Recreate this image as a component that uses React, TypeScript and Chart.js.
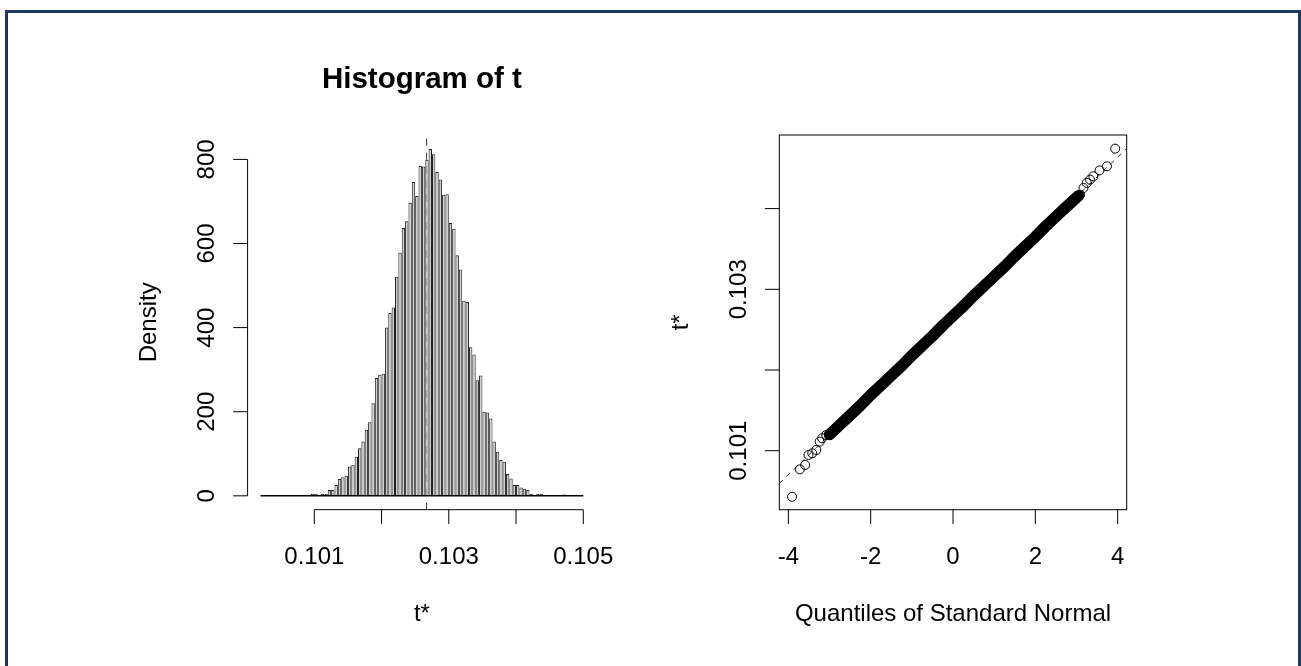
import React, { useEffect, useRef } from 'react';
import { Chart, registerables } from 'chart.js';

Chart.register(...registerables);

// ---------------- Histogram data ----------------
const histBinStart = 0.1002;
const histBinWidth = 0.00005;
const histDensities = [
  0, 0, 0, 0, 2, 0, 0, 0, 0, 0,
  0, 2, 0, 2, 0, 5, 5, 2, 5, 5,
  14, 14, 26, 40, 44, 48, 70, 74, 93, 113,
  129, 157, 175, 220, 280, 288, 290, 400, 435, 448,
  521, 578, 637, 653, 697, 746, 713, 784, 783, 799,
  825, 812, 770, 752, 716, 717, 649, 635, 572, 538,
  464, 461, 353, 336, 275, 286, 200, 198, 184, 129,
  105, 85, 81, 52, 41, 26, 26, 20, 17, 14,
  5, 2, 5, 5, 2, 2, 2, 0, 0, 0,
  3, 0, 0, 0, 0, 0,
];
const histT0 = 0.10267;
const histXTicks = [0.101, 0.102, 0.103, 0.104, 0.105];
const histXTickLabels = ['0.101', '', '0.103', '', '0.105'];
const histYTicks = [0, 200, 400, 600, 800];
const histYTickLabels = ['0', '200', '400', '600', '800'];
const histTitle = 'Histogram of t';
const histXLabel = 't*';
const histYLabel = 'Density';

// ---------------- Normal Q-Q data ----------------
const qqBandQ = [-3.0, -2.75, -2.5, -2.25, -2.0, -1.75, -1.5, -1.25, -1.0, -0.75, -0.5, -0.25, 0,
  0.25, 0.5, 0.75, 1.0, 1.25, 1.5, 1.75, 2.0, 2.25, 2.5, 2.75, 3.05];
const qqBandV = [0.10120, 0.10132, 0.10144, 0.10156, 0.10169, 0.10181, 0.10193, 0.10205, 0.10218,
  0.10230, 0.10242, 0.10255, 0.10267, 0.10279, 0.10292, 0.10304, 0.10316, 0.10328, 0.10341,
  0.10353, 0.10365, 0.10378, 0.10390, 0.10402, 0.10416];
const qqTailQ = [-3.91, -3.72, -3.59, -3.51, -3.42, -3.32, -3.24, -3.18, -3.08,
  3.09, 3.17, 3.25, 3.33, 3.41, 3.56, 3.74, 3.94];
const qqTailV = [0.100429, 0.100769, 0.100823, 0.100947, 0.100968, 0.101009, 0.101112, 0.101154, 0.101195,
  0.104172, 0.104256, 0.104318, 0.104359, 0.104400, 0.104474, 0.104524, 0.104743];
const qqLineQ = [-4.22, 4.22];
const qqLineV = [0.100594, 0.104746];
const qqXTicks = [-4, -2, 0, 2, 4];
const qqXTickLabels = ['-4', '-2', '0', '2', '4'];
const qqYTicks = [0.101, 0.102, 0.103, 0.104];
const qqYTickLabels = ['0.101', '', '0.103', ''];
const qqXLabel = 'Quantiles of Standard Normal';
const qqYLabel = 't*';

const FONT = '"Liberation Sans", Arial, Helvetica, sans-serif';

const rAxesPlugin = {
  id: 'rAxes',
  afterDraw(chart: any, _args: any, opts: any) {
    const ctx = chart.ctx as CanvasRenderingContext2D;
    const xs = chart.scales.x;
    const ys = chart.scales.y;
    const a = chart.chartArea;
    const tick = 14.4;
    ctx.save();
    ctx.strokeStyle = '#000';
    ctx.fillStyle = '#000';
    ctx.lineWidth = 1;

    if (opts.box) {
      ctx.strokeRect(a.left, a.top, a.right - a.left, a.bottom - a.top);
    }
    // x axis
    const xp = opts.xTicks.map((v: number) => xs.getPixelForValue(v));
    ctx.beginPath();
    if (!opts.box) {
      ctx.moveTo(xp[0], a.bottom);
      ctx.lineTo(xp[xp.length - 1], a.bottom);
    }
    xp.forEach((p: number) => {
      ctx.moveTo(p, a.bottom);
      ctx.lineTo(p, a.bottom + tick);
    });
    ctx.stroke();
    ctx.font = '24px ' + FONT;
    ctx.textAlign = 'center';
    ctx.textBaseline = 'alphabetic';
    xp.forEach((p: number, i: number) => {
      const t = opts.xTickLabels[i];
      if (t) ctx.fillText(t, p, a.bottom + 54.3);
    });
    // y axis
    const yp = opts.yTicks.map((v: number) => ys.getPixelForValue(v));
    ctx.beginPath();
    if (!opts.box) {
      ctx.moveTo(a.left, yp[0]);
      ctx.lineTo(a.left, yp[yp.length - 1]);
    }
    yp.forEach((p: number) => {
      ctx.moveTo(a.left, p);
      ctx.lineTo(a.left - tick, p);
    });
    ctx.stroke();
    yp.forEach((p: number, i: number) => {
      const t = opts.yTickLabels[i];
      if (!t) return;
      ctx.save();
      ctx.translate(a.left - 33.5, p);
      ctx.rotate(-Math.PI / 2);
      ctx.fillText(t, 0, 0);
      ctx.restore();
    });
    // axis titles
    const cx = (a.left + a.right) / 2;
    const cy = (a.top + a.bottom) / 2;
    ctx.fillText(opts.xLabel, cx, a.bottom + 111.3);
    ctx.save();
    ctx.translate(a.left - 91.3, cy);
    ctx.rotate(-Math.PI / 2);
    ctx.fillText(opts.yLabel, 0, 0);
    ctx.restore();
    if (opts.title) {
      ctx.font = 'bold 29.5px ' + FONT;
      ctx.fillText(opts.title, cx, 88);
    }
    ctx.restore();
  },
};

function HistChart() {
  const ref = useRef<HTMLCanvasElement | null>(null);
  useEffect(() => {
    const canvas = ref.current;
    if (!canvas) return;
    const yMin = -33;
    const yMax = 858;
    const nBins = histDensities.length;
    const chart = new Chart(canvas, {
      type: 'bar',
      data: {
        datasets: [
          {
            type: 'line',
            data: [
              { x: histT0, y: yMin },
              { x: histT0, y: yMax },
            ],
            borderColor: '#333',
            borderWidth: 1,
            borderDash: [7, 7],
            pointRadius: 0,
            order: 4,
          } as any,
          {
            type: 'bar',
            data: histDensities.map((d, k) => ({ x: histBinStart + histBinWidth * (k + 0.5), y: d })),
            backgroundColor: '#cfcfcf',
            borderColor: '#202020',
            borderWidth: 1,
            borderSkipped: 'bottom',
            barPercentage: 1.0,
            categoryPercentage: 1,
            inflateAmount: 0,
            order: 3,
          } as any,
          {
            type: 'line',
            data: [
              { x: histBinStart, y: 0 },
              { x: histBinStart + histBinWidth * nBins, y: 0 },
            ],
            borderColor: '#000',
            borderWidth: 1.5,
            pointRadius: 0,
            order: 2,
          } as any,
        ],
      },
      options: {
        animation: false,
        responsive: false,
        events: [],
        layout: { padding: { left: 247.6, right: 650 - 596.2, top: 135, bottom: 156.3 } },
        scales: {
          x: { type: 'linear', min: 0.100008, max: 0.105192, display: false, offset: false },
          y: { type: 'linear', min: yMin, max: yMax, display: false },
        },
        plugins: {
          legend: { display: false },
          tooltip: { enabled: false },
          rAxes: {
            box: false,
            xTicks: histXTicks,
            xTickLabels: histXTickLabels,
            yTicks: histYTicks,
            yTickLabels: histYTickLabels,
            xLabel: histXLabel,
            yLabel: histYLabel,
            title: histTitle,
          },
        } as any,
      },
      plugins: [rAxesPlugin],
    });
    return () => chart.destroy();
  }, []);
  return (
    <canvas
      ref={ref}
      width={650}
      height={666}
      style={{ position: 'fixed', left: 0, top: 0, width: 650, height: 666 }}
    />
  );
}

function QQChart() {
  const ref = useRef<HTMLCanvasElement | null>(null);
  useEffect(() => {
    const canvas = ref.current;
    if (!canvas) return;
    const chart = new Chart(canvas, {
      type: 'scatter',
      data: {
        datasets: [
          {
            type: 'line',
            data: qqBandQ.map((q, i) => ({ x: q, y: qqBandV[i] })),
            borderColor: '#000',
            borderWidth: 11.5,
            borderCapStyle: 'round',
            borderJoinStyle: 'round',
            pointRadius: 0,
            tension: 0,
            order: 2,
          } as any,
          {
            type: 'scatter',
            data: qqTailQ.map((q, i) => ({ x: q, y: qqTailV[i] })),
            pointStyle: 'circle',
            pointRadius: 4.5,
            borderColor: '#000',
            borderWidth: 1,
            backgroundColor: 'rgba(0,0,0,0)',
            order: 1,
          } as any,
          {
            type: 'line',
            data: qqLineQ.map((q, i) => ({ x: q, y: qqLineV[i] })),
            borderColor: '#333',
            borderWidth: 1,
            borderDash: [5, 5],
            pointRadius: 0,
            order: 3,
          } as any,
        ],
      },
      options: {
        animation: false,
        responsive: false,
        events: [],
        layout: { padding: { left: 129.3, right: 651 - 476.7, top: 135, bottom: 156.3 } },
        scales: {
          x: { type: 'linear', min: -4.22, max: 4.22, display: false },
          y: { type: 'linear', min: 0.100269, max: 0.104912, display: false },
        },
        plugins: {
          legend: { display: false },
          tooltip: { enabled: false },
          rAxes: {
            box: true,
            xTicks: qqXTicks,
            xTickLabels: qqXTickLabels,
            yTicks: qqYTicks,
            yTickLabels: qqYTickLabels,
            xLabel: qqXLabel,
            yLabel: qqYLabel,
          },
        } as any,
      },
      plugins: [rAxesPlugin],
    });
    return () => chart.destroy();
  }, []);
  return (
    <canvas
      ref={ref}
      width={651}
      height={666}
      style={{ position: 'fixed', left: 650, top: 0, width: 651, height: 666 }}
    />
  );
}

export default function App() {
  return (
    <div>
      <div
        style={{
          position: 'fixed',
          left: 0,
          top: 0,
          width: 1301,
          height: 666,
          background: '#fff',
        }}
      />
      <HistChart />
      <QQChart />
      <div
        style={{
          position: 'fixed',
          left: 5,
          top: 10,
          width: 1296,
          height: 700,
          boxSizing: 'border-box',
          border: '3px solid #1f3763',
          pointerEvents: 'none',
        }}
      />
    </div>
  );
}
